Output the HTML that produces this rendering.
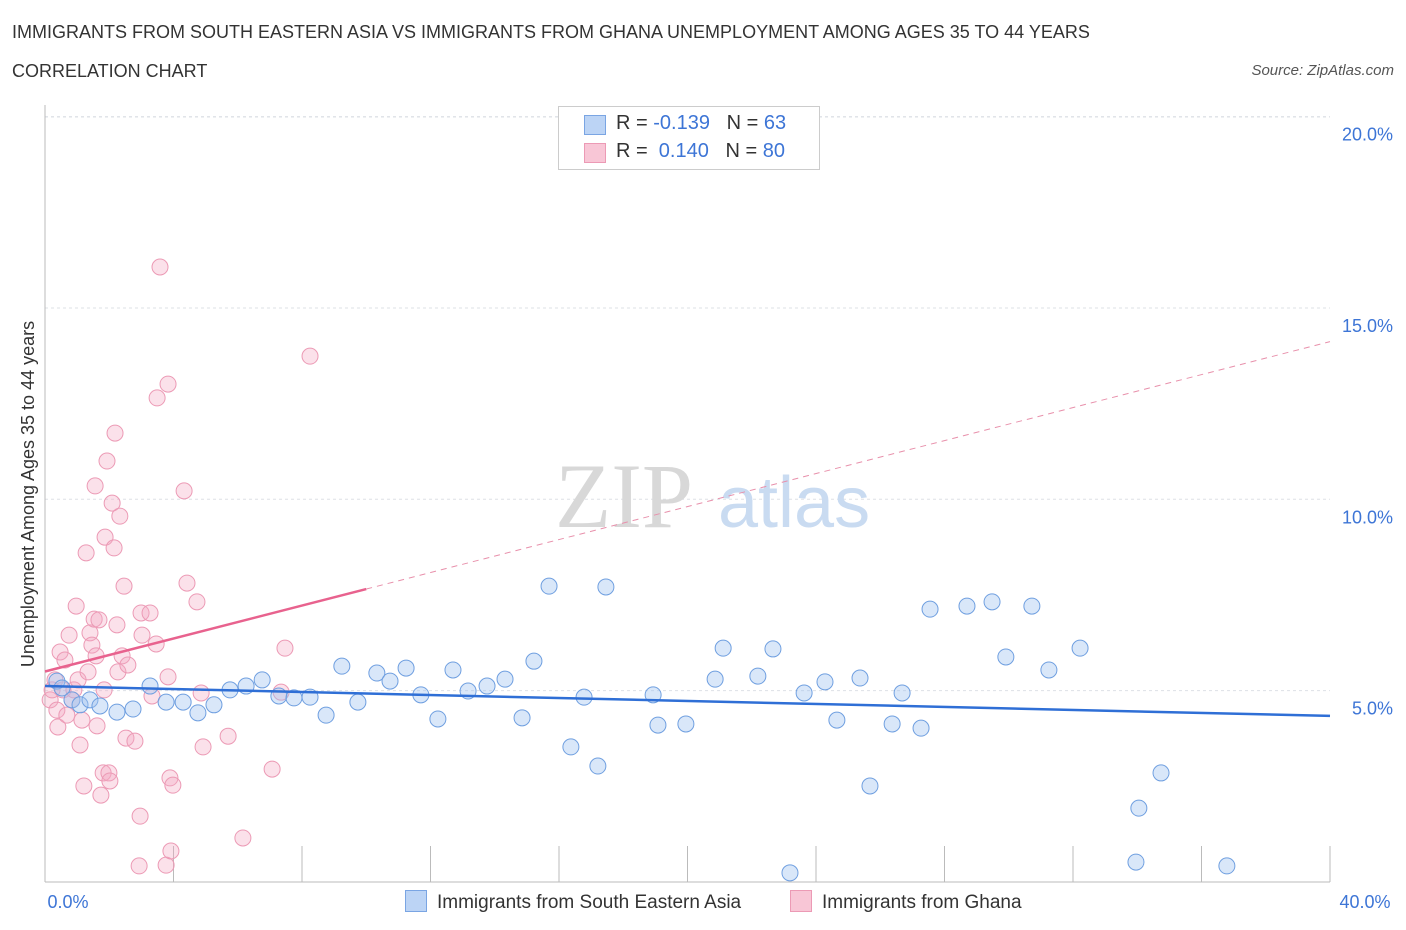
<!DOCTYPE html>
<html><head><meta charset="utf-8">
<style>
body{margin:0;background:#fff;font-family:"Liberation Sans",sans-serif;}
#wrap{position:relative;width:1406px;height:930px;overflow:hidden;}
.t{position:absolute;white-space:nowrap;}
</style></head>
<body><div id="wrap">
<div class="t" style="left:12px;top:22px;font-size:18px;color:#333;">IMMIGRANTS FROM SOUTH EASTERN ASIA VS IMMIGRANTS FROM GHANA UNEMPLOYMENT AMONG AGES 35 TO 44 YEARS</div>
<div class="t" style="left:12px;top:61px;font-size:18px;color:#333;">CORRELATION CHART</div>
<div class="t" style="right:12px;top:62px;font-size:15px;color:#555;font-style:italic;">Source: ZipAtlas.com</div>
<svg id="svg" width="1406" height="930" style="position:absolute;left:0;top:0"></svg>
</div>
<script>
const yTicks=[5,10,15,20];
const yTickLabels=["5.0%","10.0%","15.0%","20.0%"];
const xTickLabels=["0.0%","40.0%"];
const blueX=[0.37,0.53,0.84,1.09,1.40,1.71,2.24,2.74,3.27,3.77,4.30,4.76,5.26,5.76,6.26,6.76,7.28,7.75,8.25,8.75,9.24,9.74,10.33,10.74,11.24,11.70,12.23,12.70,13.17,13.76,14.32,14.85,15.22,15.69,16.37,16.78,17.21,17.46,18.93,19.08,19.95,20.86,21.11,22.19,22.66,23.19,23.63,24.28,24.65,25.37,25.68,26.37,26.68,27.27,27.55,28.70,29.48,29.91,30.72,31.25,32.22,33.96,34.05,34.74,36.79];
const blueY=[5.25,5.07,4.76,4.63,4.76,4.60,4.44,4.52,5.12,4.70,4.70,4.42,4.63,5.02,5.12,5.28,4.86,4.81,4.83,4.36,5.64,4.70,5.46,5.25,5.59,4.89,4.26,5.54,4.99,5.12,5.30,4.29,5.77,7.73,3.53,4.83,3.03,7.71,4.89,4.10,4.13,5.30,6.11,5.38,6.09,0.24,4.94,5.23,4.23,5.33,2.51,4.13,4.94,4.02,7.13,7.21,7.32,5.88,7.21,5.54,6.11,0.52,1.93,2.85,0.42];
const pinkX=[0.16,0.22,0.31,0.37,0.40,0.47,0.56,0.62,0.68,0.75,0.84,0.90,0.97,1.03,1.09,1.15,1.21,1.28,1.34,1.40,1.46,1.53,1.59,1.62,1.68,1.74,1.81,1.84,1.87,1.93,1.99,2.02,2.09,2.15,2.18,2.24,2.27,2.33,2.40,2.46,2.52,2.58,2.80,2.96,2.99,3.02,3.27,3.33,3.46,3.49,3.58,2.93,3.77,3.83,3.83,3.89,3.92,3.98,4.33,4.42,4.73,4.86,4.92,5.70,6.16,7.07,7.35,7.47,8.25,1.56];
const pinkY=[4.76,5.02,5.28,4.49,4.05,6.01,5.02,5.80,4.36,6.45,4.76,5.02,7.21,5.28,3.58,4.23,2.51,8.60,5.49,6.51,6.19,6.87,5.91,4.08,6.85,2.27,2.85,5.02,9.01,11.0,2.85,2.64,9.90,8.73,11.73,6.72,5.49,9.56,5.91,7.73,3.76,5.67,3.68,1.72,7.03,6.45,7.03,4.86,6.22,12.65,16.07,0.42,0.44,13.01,5.36,2.72,0.81,2.53,10.22,7.81,7.32,4.94,3.53,3.81,1.15,2.95,4.96,6.11,13.74,10.35];
const blueTrend=[5.12,4.34];
const pinkTrend=[5.5,0.2155];

const X0=45,X1=1330,Y0=882,PPY=38.27;
const sx=v=>X0+(X1-X0)*v/40;
const sy=v=>Y0-v*PPY;
const svg=document.getElementById('svg');
const NS='http://www.w3.org/2000/svg';
function mk(tag,attrs){const e=document.createElementNS(NS,tag);for(const k in attrs)e.setAttribute(k,attrs[k]);svg.appendChild(e);return e;}

yTicks.forEach((t,i)=>{
  const g=mk('line',{x1:X0,x2:X1,y1:sy(t),y2:sy(t),stroke:'#dde0e6','stroke-dasharray':'3,3'});
  
  
  const tx=mk('text',{x:1393,y:sy(t)+24,'text-anchor':'end','font-size':18,fill:'#3d75d6'});
  tx.textContent=yTickLabels[i];
  
  
});
const topGrid=mk('line',{x1:X0,x2:X1,y1:117,y2:117,stroke:'#dde0e6','stroke-dasharray':'3,3'});


const ya=mk('line',{x1:X0,x2:X0,y1:105,y2:Y0,stroke:'#bbb'});


const xa=mk('line',{x1:X0,x2:X1,y1:Y0,y2:Y0,stroke:'#bbb'});


for(let i=0;i<=10;i++){
  const t=mk('line',{x1:sx(i*4),x2:sx(i*4),y1:846,y2:Y0,stroke:'#bbb'});
  
  
}
[[0,68],[40,1365]].forEach((p,i)=>{
  const tx=mk('text',{x:p[1],y:908,'text-anchor':'middle','font-size':18,fill:'#3d75d6'});
  tx.textContent=xTickLabels[i];
  
  
});
const wm=mk('text',{x:555,y:527,'font-size':92,fill:'#d8d8d8','font-family':'Liberation Serif, serif'});
wm.textContent='ZIP';


const wm2=mk('text',{x:718,y:527,'font-size':72,fill:'#c9dbf1'});
wm2.textContent='atlas';


const yt=mk('text',{x:0,y:0,'font-size':18,fill:'#333','text-anchor':'middle',transform:'translate(34,494) rotate(-90)'});
yt.textContent='Unemployment Among Ages 35 to 44 years';


pinkX.forEach((x,i)=>{
  const c=mk('circle',{cx:sx(x),cy:sy(pinkY[i]),r:8,fill:'rgba(244,170,195,0.35)',stroke:'#ec9ab5','stroke-width':1});
  
  
});
blueX.forEach((x,i)=>{
  const c=mk('circle',{cx:sx(x),cy:sy(blueY[i]),r:8,fill:'rgba(160,195,240,0.4)',stroke:'#6f9fe0','stroke-width':1});
  
  
});
const bt=mk('line',{x1:sx(0),y1:sy(blueTrend[0]),x2:sx(40),y2:sy(blueTrend[1]),stroke:'#2f6fd6','stroke-width':2.5});


const pt=mk('line',{x1:sx(0),y1:sy(pinkTrend[0]),x2:sx(10),y2:sy(pinkTrend[0]+10*pinkTrend[1]),stroke:'#e8628e','stroke-width':2.5});


const pd=mk('line',{x1:sx(10),y1:sy(pinkTrend[0]+10*pinkTrend[1]),x2:sx(40),y2:sy(pinkTrend[0]+40*pinkTrend[1]),stroke:'#e890ab','stroke-width':1,'stroke-dasharray':'6,5'});


</script>
<div class="t" style="left:558px;top:106px;width:260px;height:62px;border:1px solid #ccc;background:#fff;font-size:20px;color:#333;">
 <div style="position:absolute;left:25px;top:8px;width:20px;height:18px;background:#bcd4f5;border:1px solid #7aa5e3;"></div>
 <div style="position:absolute;left:57px;top:5px;">R = <span style="color:#3d75d6">-0.139</span>&nbsp;&nbsp;&nbsp;N = <span style="color:#3d75d6">63</span></div>
 <div style="position:absolute;left:25px;top:36px;width:20px;height:18px;background:#f8c6d6;border:1px solid #ec9ab5;"></div>
 <div style="position:absolute;left:57px;top:33px;">R = &nbsp;<span style="color:#3d75d6">0.140</span>&nbsp;&nbsp;&nbsp;N = <span style="color:#3d75d6">80</span></div>
</div>
<div class="t" style="left:405px;top:890px;font-size:19px;color:#333;">
 <span style="display:inline-block;width:20px;height:20px;background:#bcd4f5;border:1px solid #7aa5e3;vertical-align:-4px;margin-right:10px;"></span>Immigrants from South Eastern Asia</div>
<div class="t" style="left:790px;top:890px;font-size:19px;color:#333;">
 <span style="display:inline-block;width:20px;height:20px;background:#f8c6d6;border:1px solid #ec9ab5;vertical-align:-4px;margin-right:10px;"></span>Immigrants from Ghana</div>
</body></html>
